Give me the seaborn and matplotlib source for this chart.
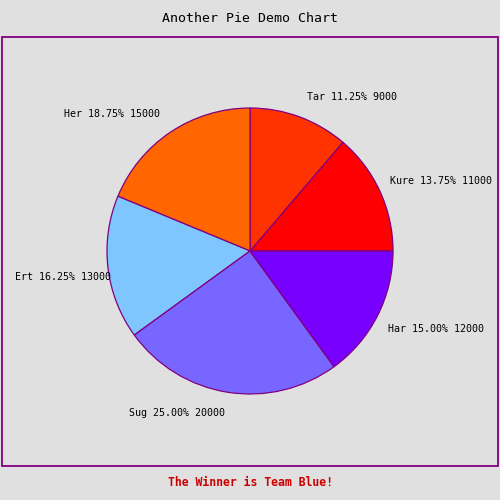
import numpy as np
import seaborn as sns
import matplotlib.pyplot as plt
from matplotlib.patches import Rectangle

# data
nombres = ["Kure", "Tar", "Her", "Ert", "Sug", "Har"]
valores = [11000, 9000, 15000, 13000, 20000, 12000]
colores = ["#ff0000", "#ff3300", "#ff6600", "#7fc6ff", "#7766ff", "#7700ff"]
dist_etiquetas = [1.08, 1.15, 1.13, 0.98, 1.13, 1.08]
ajuste_vertical = [0.04, 0.0, 0.015, -0.07, -0.015, -0.055]

sns.set_theme(style="white", rc={"figure.facecolor": "#e0e0e0", "axes.facecolor": "#e0e0e0"})
plt.rcParams['font.family'] = ['DejaVu Sans Mono', 'DejaVu Sans']

fig = plt.figure(figsize=(5, 5), dpi=100)
fig.patch.set_facecolor("#e0e0e0")

# marco morado
fig.patches.append(Rectangle((2 / 500, 34 / 500), 496 / 500, 429 / 500, transform=fig.transFigure,
                             fill=False, edgecolor="#800080", linewidth=1.3))

ax = fig.add_axes([0.05, 0.048, 0.9, 0.9])
total = sum(valores)
etiquetas = [f"{n} {v / total * 100:.2f}% {v}" for n, v in zip(nombres, valores)]

wedges, textos = ax.pie(valores, colors=colores, startangle=0, counterclock=True,
                        labels=etiquetas, labeldistance=1.0,
                        wedgeprops=dict(edgecolor="#800080", linewidth=0.9),
                        textprops=dict(fontsize=7.2, color="black"))

for t, d, dy in zip(textos, dist_etiquetas, ajuste_vertical):
    x, y = t.get_position()
    t.set_position((x * d, y * d + dy))

ax.set_xlim(-225 / 143, 225 / 143)
ax.set_ylim(-225 / 143, 225 / 143)
ax.set_aspect("equal")
ax.axis("off")

fig.text(0.5, 1 - 19 / 500, "Another Pie Demo Chart", ha="center", va="center", fontsize=9.5, color="black")
fig.text(0.5, 1 - 483 / 500, "The Winner is Team Blue!", ha="center", va="center", fontsize=8.3,
         fontweight="bold", color="#cc0000")

plt.savefig("out.png", dpi=100, facecolor="#e0e0e0")
